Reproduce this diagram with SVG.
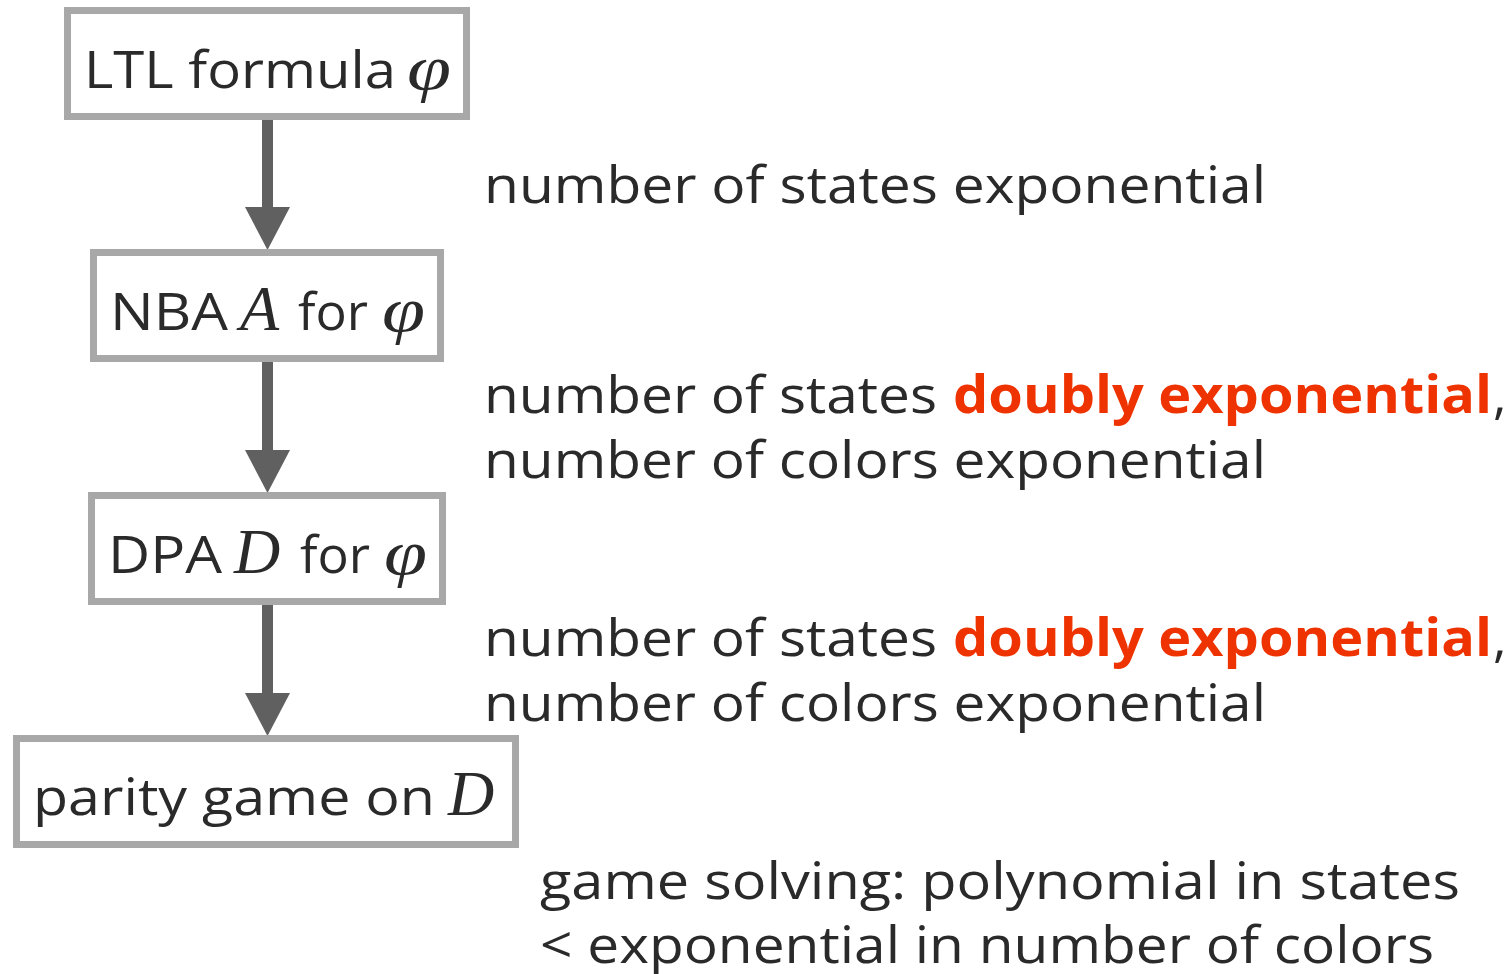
<svg xmlns="http://www.w3.org/2000/svg" width="1512" height="974" viewBox="0 0 1512 974">
<style>
.box{fill:#fff;stroke:#a8a8a8;stroke-width:7}
.t{font-family:"Open Sans","Liberation Sans",sans-serif;font-size:52px;fill:#2a2a2a}
.m{font-family:"Liberation Serif","DejaVu Serif",serif;font-style:italic;font-size:64px;fill:#2a2a2a}
.r{font-weight:bold;fill:#ee3300}
.shaft{stroke:#606060;stroke-width:11}
.head{fill:#606060}
</style>
<rect width="1512" height="974" fill="#fff"/>
<g id="connectors">
<line class="shaft" x1="267.5" y1="118" x2="267.5" y2="209"/>
<polygon class="head" points="245,207 290,207 267.5,250"/>
<line class="shaft" x1="267.5" y1="361" x2="267.5" y2="452"/>
<polygon class="head" points="245,450 290,450 267.5,493"/>
<line class="shaft" x1="267.5" y1="604" x2="267.5" y2="695"/>
<polygon class="head" points="245,693 290,693 267.5,736"/>
</g>
<g id="ltl">
<rect class="box" x="67.5" y="10.5" width="399" height="106"/>
<text class="t" x="84" y="88" textLength="312" lengthAdjust="spacingAndGlyphs">LTL formula</text>
<text class="m" x="407" y="89" textLength="44" lengthAdjust="spacingAndGlyphs">φ</text>
</g>
<g id="nba">
<rect class="box" x="93.5" y="252.5" width="347" height="106"/>
<text class="t" x="110" y="330" textLength="118" lengthAdjust="spacingAndGlyphs">NBA</text>
<text class="m" x="240" y="330">A</text>
<text class="t" x="298" y="330" textLength="70" lengthAdjust="spacingAndGlyphs">for</text>
<text class="m" x="382" y="331" textLength="43" lengthAdjust="spacingAndGlyphs">φ</text>
</g>
<g id="dpa">
<rect class="box" x="91.5" y="495.5" width="351" height="106"/>
<text class="t" x="108" y="573" textLength="114" lengthAdjust="spacingAndGlyphs">DPA</text>
<text class="m" x="234" y="573">D</text>
<text class="t" x="300" y="573" textLength="70" lengthAdjust="spacingAndGlyphs">for</text>
<text class="m" x="384" y="574" textLength="43" lengthAdjust="spacingAndGlyphs">φ</text>
</g>
<g id="parity">
<rect class="box" x="16.5" y="738.5" width="499" height="106"/>
<text class="t" x="33" y="815" textLength="402" lengthAdjust="spacingAndGlyphs">parity game on</text>
<text class="m" x="448" y="815">D</text>
</g>
<g id="labels">
<text class="t" x="484" y="203" textLength="782" lengthAdjust="spacingAndGlyphs">number of states exponential</text>
<text class="t" x="484" y="413"><tspan textLength="453" lengthAdjust="spacingAndGlyphs">number of states</tspan> <tspan class="r" x="953" textLength="539" lengthAdjust="spacingAndGlyphs">doubly exponential</tspan><tspan x="1493">,</tspan></text>
<text class="t" x="484" y="478" textLength="782" lengthAdjust="spacingAndGlyphs">number of colors exponential</text>
<text class="t" x="484" y="656"><tspan textLength="453" lengthAdjust="spacingAndGlyphs">number of states</tspan> <tspan class="r" x="953" textLength="539" lengthAdjust="spacingAndGlyphs">doubly exponential</tspan><tspan x="1493">,</tspan></text>
<text class="t" x="484" y="721" textLength="782" lengthAdjust="spacingAndGlyphs">number of colors exponential</text>
<text class="t" x="540" y="899" textLength="920" lengthAdjust="spacingAndGlyphs">game solving: polynomial in states</text>
<text class="t" x="540" y="963" textLength="894" lengthAdjust="spacingAndGlyphs">&lt; exponential in number of colors</text>
</g>
</svg>
